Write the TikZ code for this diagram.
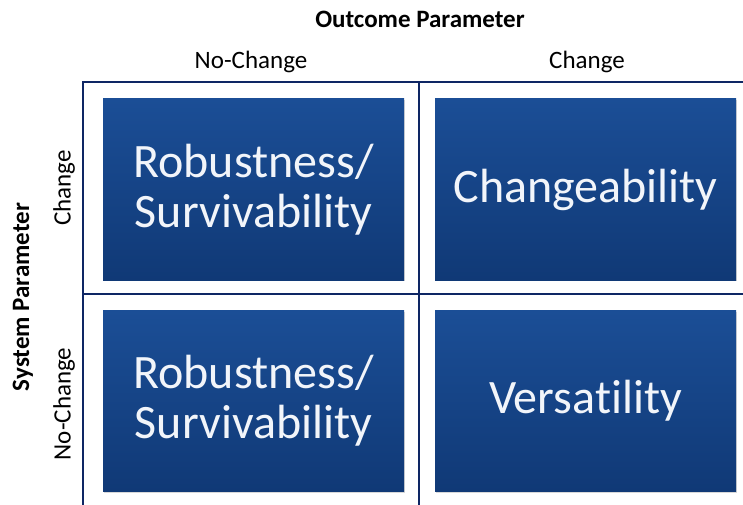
\documentclass[tikz,border=0pt]{standalone}
\usepackage{fontspec}
\setmainfont[Ligatures={NoCommon,NoRequired,NoContextual},RawFeature={-liga;-clig;-dlig}]{Carlito}
\usetikzlibrary{shadows}
\definecolor{boxtop}{RGB}{27,78,150}
\definecolor{boxbot}{RGB}{16,57,118}
\definecolor{gridline}{RGB}{14,38,100}
\definecolor{boxtext}{RGB}{242,245,250}
\tikzset{
  quadbox/.style={rectangle, minimum width=301pt, minimum height=181pt, inner sep=0pt,
    top color=boxtop, bottom color=boxbot, draw=none, text=boxtext, align=center,
    font=\fontsize{48}{50}\selectfont,
    drop shadow={opacity=0.3, shadow xshift=1.2pt, shadow yshift=-1.2pt}},
  gridrule/.style={draw=gridline, line width=2pt},
  axislabel/.style={font=\fontsize{25}{28}\selectfont\bfseries, text=black, inner sep=0pt},
  catlabel/.style={font=\fontsize{25}{28}\selectfont, text=black, inner sep=0pt}
}
\begin{document}
\begin{tikzpicture}[x=1pt,y=-1pt]
\useasboundingbox[fill=white] (0,0) rectangle (743,505);
% grid
\coordinate (tl) at (83,82);
\coordinate (tr) at (743,82);
\coordinate (bl) at (83,505);
\coordinate (tm) at (419,82);
\coordinate (bm) at (419,505);
\coordinate (ml) at (83,294);
\coordinate (mr) at (743,294);
\draw[gridrule] (tr) -- (tl) -- (bl);
\draw[gridrule] (tm) -- (bm);
\draw[gridrule] (ml) -- (mr);
% boxes
\node[quadbox] (rs1) at (253.5,189.5) {Robustness/\\Survivability};
\node[quadbox] (chg) at (585.5,189.5) {Changeability};
\node[quadbox] (rs2) at (253.5,401) {Robustness/\\Survivability};
\node[quadbox] (ver) at (585.5,401) {Versatility};
% labels
\node[axislabel] (outc) at (420,19) {Outcome Parameter};
\node[catlabel] (onc) at (251,62) {No-Change};
\node[catlabel] (oc) at (587,62) {Change};
\node[axislabel, rotate=90] (sysp) at (23,297) {System Parameter};
\node[catlabel, rotate=90] (sc) at (64,188) {Change};
\node[catlabel, rotate=90] (snc) at (64,404) {No-Change};
\end{tikzpicture}
\end{document}
